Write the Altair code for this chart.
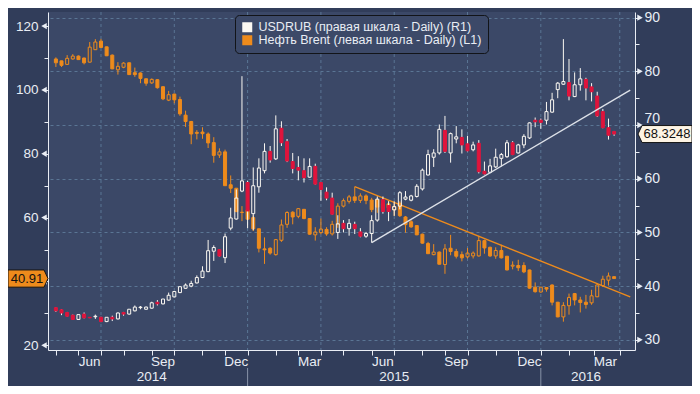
import altair as alt
import pandas as pd

# ---------------- data (weekly candles) ----------------
dates = pd.date_range("2014-05-02", periods=100, freq="7D").strftime("%Y-%m-%d").tolist()

brent_open = [109.7, 109.1, 108.0, 109.7, 110.6, 110.0, 108.7, 112.6, 115.3, 113.5,
              110.9, 106.3, 107.1, 108.5, 105.4, 105.3, 103.5, 102.2, 103.2, 101.0,
              96.8, 98.7, 97.0, 92.1, 90.1, 86.7, 86.8, 86.2, 83.5, 79.6,
              80.6, 70.3, 69.2, 61.6, 62.4, 60.0, 56.5, 50.2, 50.4, 48.4,
              52.9, 57.9, 61.7, 60.4, 62.6, 59.7, 54.6, 55.3, 56.3, 54.9,
              58.0, 63.6, 65.1, 66.5, 65.4, 66.8, 65.5, 65.6, 62.9, 64.3,
              62.5, 64.5, 60.2, 58.7, 57.5, 54.8, 51.9, 48.4, 49.2, 45.3,
              50.4, 49.4, 48.4, 47.7, 48.0, 48.0, 52.8, 50.7, 48.0, 49.7,
              47.9, 44.8, 45.0, 45.0, 43.6, 38.2, 36.7, 38.1, 38.9, 33.5,
              28.9, 32.4, 36.2, 34.2, 33.5, 33.3, 35.2, 38.7, 40.4, 41.5]
brent_high = [110.2, 109.2, 110.9, 111.2, 110.8, 110.1, 115.0, 115.9, 116.0, 113.6,
              111.1, 108.7, 108.7, 108.6, 107.0, 105.5, 103.6, 103.6, 103.4, 101.2,
              99.7, 98.8, 97.9, 93.5, 90.3, 87.4, 88.3, 86.7, 85.2, 81.7,
              81.3, 73.2, 69.3, 63.6, 63.7, 60.7, 56.6, 53.8, 50.7, 53.3,
              59.4, 62.0, 62.0, 63.0, 62.7, 59.8, 57.0, 59.7, 57.0, 59.0,
              64.5, 66.0, 67.1, 69.7, 67.6, 67.3, 66.2, 66.0, 65.6, 65.3,
              64.8, 65.1, 60.5, 59.2, 57.6, 55.0, 52.4, 51.7, 49.4, 51.7,
              54.6, 50.2, 49.4, 50.5, 49.4, 54.3, 53.1, 50.9, 50.7, 51.5,
              48.0, 46.3, 46.8, 46.0, 43.7, 39.7, 38.3, 38.2, 39.1, 33.6,
              33.5, 36.2, 36.4, 35.2, 35.8, 37.4, 39.4, 41.8, 42.8, 41.6]
brent_low = [107.2, 107.2, 107.9, 109.5, 109.4, 108.0, 108.6, 112.5, 113.1, 110.6,
             106.5, 104.8, 106.8, 104.7, 104.1, 102.1, 101.3, 101.9, 100.4, 96.8,
             96.5, 95.8, 91.9, 88.4, 83.0, 84.5, 84.7, 81.8, 77.2, 78.7,
             69.9, 67.7, 61.7, 58.9, 59.3, 55.8, 49.1, 45.5, 48.4, 48.1,
             52.4, 56.8, 57.9, 59.8, 59.5, 54.6, 52.8, 54.8, 54.3, 54.4,
             56.8, 63.2, 64.4, 64.6, 64.6, 64.2, 61.7, 61.5, 62.4, 62.3,
             60.5, 60.2, 55.3, 56.8, 54.5, 51.8, 48.6, 48.2, 45.3, 42.4,
             48.2, 47.2, 46.3, 47.2, 47.2, 47.8, 48.7, 47.7, 47.1, 47.2,
             43.5, 43.8, 43.3, 42.6, 37.7, 36.5, 36.5, 36.8, 32.5, 28.8,
             27.4, 29.6, 32.5, 30.3, 31.5, 32.7, 35.1, 38.3, 38.7, 40.8]
brent_close = [108.5, 107.7, 109.9, 110.6, 109.5, 108.5, 113.4, 115.0, 113.3, 110.7,
               106.6, 107.4, 108.4, 104.8, 104.8, 103.6, 102.1, 103.3, 100.7, 97.2,
               98.5, 96.9, 92.5, 90.1, 86.2, 86.4, 86.3, 83.4, 79.5, 80.6,
               70.0, 69.2, 61.9, 61.7, 59.5, 56.5, 50.4, 49.9, 48.9, 53.1,
               57.7, 61.6, 60.2, 62.8, 59.7, 54.8, 55.5, 56.4, 54.9, 57.9,
               63.6, 65.3, 66.5, 65.4, 66.8, 65.4, 62.5, 63.3, 64.4, 63.1,
               63.5, 60.6, 57.8, 57.1, 54.6, 52.0, 48.7, 49.2, 45.4, 50.2,
               49.4, 47.9, 47.4, 48.9, 48.9, 52.8, 50.5, 48.0, 49.7, 47.4,
               43.6, 45.1, 44.3, 43.0, 37.9, 36.8, 38.2, 37.6, 33.5, 28.9,
               32.5, 35.0, 34.2, 33.4, 32.8, 35.5, 38.9, 40.7, 41.7, 40.91]

rub_open = [36.0, 35.6, 35.1, 34.6, 33.8, 34.8, 34.2, 34.3, 34.2, 33.4,
            34.2, 33.9, 35.1, 34.8, 35.4, 36.0, 35.7, 35.9, 37.0, 36.7,
            37.4, 38.0, 38.8, 39.6, 40.0, 40.6, 41.6, 42.7, 46.5, 46.8,
            45.3, 50.8, 52.5, 57.7, 59.3, 53.5, 58.5, 61.5, 65.1, 63.7,
            69.4, 66.9, 63.2, 62.1, 61.5, 60.3, 62.3, 59.3, 57.5, 56.4,
            50.0, 51.7, 50.7, 51.5, 50.1, 49.3, 49.8, 52.3, 56.1, 55.0,
            54.2, 54.9, 56.2, 56.0, 56.7, 58.1, 60.7, 64.0, 64.8, 69.0,
            64.8, 67.4, 67.7, 66.5, 65.4, 66.6, 61.4, 61.2, 62.2, 63.8,
            64.1, 66.7, 64.8, 66.3, 67.6, 70.9, 70.9, 70.9, 72.4, 76.6,
            77.6, 77.9, 75.3, 77.5, 78.5, 77.1, 75.4, 72.5, 69.5, 68.8]
rub_high = [36.1, 35.7, 35.2, 34.7, 34.7, 35.1, 34.25, 34.7, 34.3, 34.2,
            34.5, 35.1, 35.2, 35.7, 36.4, 36.3, 36.2, 37.1, 37.4, 37.6,
            38.8, 39.0, 39.9, 40.5, 41.0, 42.0, 43.7, 48.6, 47.6, 46.9,
            49.8, 54.6, 58.0, 79.1, 59.6, 62.1, 63.8, 66.6, 66.1, 71.8,
            70.7, 67.4, 64.8, 64.2, 63.8, 63.8, 62.8, 59.4, 58.4, 57.4,
            53.2, 52.3, 52.5, 52.0, 50.8, 50.1, 53.2, 56.7, 56.7, 55.8,
            55.8, 57.7, 57.7, 57.0, 59.0, 61.9, 65.4, 65.5, 70.1, 71.7,
            68.6, 69.8, 69.2, 68.0, 66.9, 67.2, 63.2, 63.7, 65.6, 64.8,
            67.2, 67.0, 66.5, 68.3, 70.5, 71.4, 71.2, 74.3, 76.0, 78.0,
            86.0, 82.3, 79.8, 80.6, 78.8, 77.8, 76.2, 73.0, 71.2, 68.9]
rub_low = [35.2, 34.6, 34.3, 33.7, 33.7, 34.0, 34.05, 33.9, 33.3, 33.3,
           33.5, 33.8, 34.5, 34.7, 35.3, 35.7, 35.6, 35.8, 36.4, 36.6,
           37.3, 37.9, 38.7, 39.5, 39.8, 40.5, 41.5, 42.6, 44.7, 45.5,
           44.3, 50.4, 52.4, 57.5, 50.8, 50.4, 57.4, 61.0, 63.0, 63.5,
           66.1, 63.1, 61.0, 59.7, 59.3, 60.2, 58.9, 55.9, 56.0, 53.3,
           48.8, 50.0, 49.4, 49.7, 49.1, 49.0, 48.1, 52.0, 53.5, 52.1,
           53.1, 54.3, 56.0, 55.8, 56.5, 57.8, 60.6, 62.2, 64.5, 64.8,
           63.0, 66.6, 64.7, 65.1, 65.1, 61.0, 60.8, 61.0, 62.0, 62.3,
           63.9, 64.4, 64.7, 65.7, 67.4, 69.6, 69.3, 70.1, 72.3, 75.0,
           77.5, 74.6, 75.2, 76.4, 74.6, 74.4, 71.5, 69.4, 67.3, 68.0]
rub_close = [35.4, 35.0, 34.4, 33.8, 34.7, 34.1, 34.1, 34.4, 33.4, 34.2,
             33.9, 35.0, 34.8, 35.7, 36.1, 36.1, 36.1, 36.9, 36.7, 37.6,
             38.3, 39.0, 39.9, 40.2, 40.5, 41.6, 42.8, 46.6, 47.2, 45.6,
             49.2, 52.7, 56.4, 59.6, 54.0, 58.7, 62.0, 65.1, 63.5, 69.3,
             66.7, 63.3, 61.9, 61.6, 60.2, 62.3, 59.0, 58.0, 56.4, 53.4,
             51.6, 50.7, 51.7, 50.7, 49.3, 49.8, 52.2, 56.2, 53.9, 53.9,
             54.8, 57.4, 56.6, 56.8, 58.6, 61.6, 64.5, 64.8, 69.2, 65.1,
             68.4, 67.8, 66.3, 65.2, 66.3, 61.3, 60.9, 62.4, 64.0, 64.5,
             66.7, 64.5, 66.3, 67.9, 70.4, 70.6, 70.5, 72.5, 74.7, 77.8,
             78.1, 75.4, 77.5, 78.6, 76.9, 76.2, 71.7, 69.5, 68.1, 68.3248]

series_names = ["USDRUB (правая шкала - Daily) (R1)", "Нефть Brent (левая шкала - Daily) (L1)"]
last_brent = ["40.91"]
last_rub = ["68.3248"]

rub_trend_dates = ["2015-05-29", "2016-04-14"]
rub_trend_vals = [48.1, 76.5]
brent_trend_dates = ["2015-05-08", "2016-04-14"]
brent_trend_vals = [69.7, 35.2]

month_tick_dates = ["2014-05-02", "2014-05-30", "2014-06-27", "2014-07-25", "2014-08-29",
                    "2014-09-26", "2014-10-31", "2014-11-28", "2014-12-26", "2015-01-30",
                    "2015-02-27", "2015-03-27", "2015-04-24", "2015-05-29", "2015-06-26",
                    "2015-07-31", "2015-08-28", "2015-09-25", "2015-10-30", "2015-11-27",
                    "2015-12-25", "2016-01-29", "2016-02-29", "2016-04-01"]
grid_dates = ["2014-06-27", "2014-09-26", "2014-12-26", "2015-03-27",
              "2015-06-26", "2015-09-25", "2015-12-25", "2016-04-01"]
month_labels = ["Jun", "Sep", "Dec", "Mar", "Jun", "Sep", "Dec", "Mar"]
month_label_dates = ["2014-06-13", "2014-09-12", "2014-12-12", "2015-03-13",
                     "2015-06-12", "2015-09-11", "2015-12-11", "2016-03-14"]
year_labels = ["2014", "2015", "2016"]
year_label_dates = ["2014-08-29", "2015-06-26", "2016-02-19"]
year_sep_dates = ["2014-12-26", "2015-12-25"]

left_ticks = list(range(20, 121, 10))
left_major = [20, 40, 60, 80, 100, 120]
right_ticks = list(range(30, 91, 5))
right_major = [30, 40, 50, 60, 70, 80, 90]

# ---------------- style ----------------
W, H = 587, 338
FONT = "Liberation Sans"
ORANGE = "#ee8b1c"
RED = "#e0143c"
WHITE = "#fbf8f2"
AXC = "#e9edf4"
GRID = "#5a7594"
B1, B2, B3, B4 = "#44526f", "#3b4867", "#35425f", "#2f3b58"

def ms(s):
    return int(pd.Timestamp(s).value // 10**6)

xscale = alt.Scale(domain=[ms("2014-04-28 10:00"), ms("2016-04-13 17:00")])
xaxis = alt.Axis(values=[ms(d) for d in month_tick_dates], labels=False, tickSize=5,
                 grid=False, title=None, orient="bottom")

def X(f="date"):
    return alt.X(f + ":T", scale=xscale, axis=xaxis)

lscale = alt.Scale(domain=[18.53, 124.41], nice=False, zero=False)
laxis = alt.Axis(orient="left", values=left_ticks, title=None, grid=False, tickSize=4,
                 labelPadding=6, labelFontSize=13.5,
                 labelExpr="(datum.value % 20 == 0 && datum.value != 40) ? datum.label : ''")
rscale = alt.Scale(domain=[28.11, 91.05], nice=False, zero=False)
raxis = alt.Axis(orient="right", values=right_ticks, title=None, tickSize=4, labelPadding=5,
                 labelFontSize=14,
                 labelExpr="datum.value % 10 == 0 ? datum.label : ''",
                 labelBaseline={"condition": {"test": "datum.value == 70", "value": "bottom"},
                                "value": "middle"},
                 grid=True, gridColor=GRID, gridDash=[3, 3],
                 gridOpacity={"condition": {"test": "datum.value % 10 == 0", "value": 1}, "value": 0})

def YL(f):
    return alt.Y(f + ":Q", scale=lscale, axis=laxis)

def YR(f):
    return alt.Y(f + ":Q", scale=rscale, axis=raxis)

def candles(df, Yf, up_col, down_col, wick_col):
    base = alt.Chart(df).transform_calculate(
        top="max(datum.open, datum.close)", bot="min(datum.open, datum.close)")
    up = alt.datum.close >= alt.datum.open
    w1 = base.mark_rule(color=wick_col, strokeWidth=1).encode(x=X(), y=Yf("high"), y2="top:Q")
    w2 = base.mark_rule(color=wick_col, strokeWidth=1).encode(x=X(), y=Yf("bot"), y2="low:Q")
    body = base.mark_bar(width=3, strokeWidth=1).encode(
        x=X(), y=Yf("open"), y2="close:Q",
        fill=alt.condition(up, alt.value(up_col), alt.value(down_col)),
        fillOpacity=alt.condition(up, alt.value(0), alt.value(1)),
        stroke=alt.condition(up, alt.value(up_col), alt.value(down_col)))
    return [w1, w2, body]

brent_df = pd.DataFrame({"date": dates, "open": brent_open, "high": brent_high,
                         "low": brent_low, "close": brent_close})
rub_df = pd.DataFrame({"date": dates, "open": rub_open, "high": rub_high,
                       "low": rub_low, "close": rub_close})

# ---------------- left (Brent) group ----------------
vgrid = alt.Chart(pd.DataFrame({"d": grid_dates})).mark_rule(
    color=GRID, strokeDash=[3, 3], strokeWidth=1).encode(x=X("d"))

brent_trend = alt.Chart(pd.DataFrame({"d": brent_trend_dates, "v": brent_trend_vals})).mark_line(
    color=ORANGE, strokeWidth=1.4, clip=True).encode(x=X("d"), y=YL("v"))

ltri = alt.Chart(pd.DataFrame({"v": left_major})).mark_point(
    shape="triangle-left", filled=True, size=40, color=AXC, opacity=1).encode(
    x=alt.value(-4), y=YL("v"))

ltag_df = pd.DataFrame({"v": [float(last_brent[0])], "t": last_brent})
ltag = alt.Chart(ltag_df).mark_point(
    shape="M-1,-0.43L0.8,-0.43L1,0L0.8,0.43L-1,0.43Z", size=1600, filled=True,
    fill=ORANGE, stroke="#151515", strokeWidth=1, opacity=1).encode(x=alt.value(-20), y=YL("v"))
ltag_t = alt.Chart(ltag_df).mark_text(font=FONT, fontSize=13, color="#111111").encode(
    x=alt.value(-21), y=YL("v"), text="t:N")

mlab = alt.Chart(pd.DataFrame({"d": month_label_dates, "t": month_labels})).mark_text(
    font=FONT, fontSize=13.5, color=AXC, baseline="middle").encode(
    x=X("d"), y=alt.value(H + 12), text="t:N")
ylab = alt.Chart(pd.DataFrame({"d": year_label_dates, "t": year_labels})).mark_text(
    font=FONT, fontSize=13.5, color=AXC, baseline="middle").encode(
    x=X("d"), y=alt.value(H + 27), text="t:N")
ysep = alt.Chart(pd.DataFrame({"d": year_sep_dates})).mark_rule(
    color="#8893a8", strokeWidth=1).encode(x=X("d"), y=alt.value(H + 18), y2=alt.value(H + 36))

legend_layer = alt.Chart(pd.DataFrame({"s": series_names})).mark_square(size=100, opacity=1).encode(
    x=alt.value(-400), y=alt.value(-400),
    color=alt.Color("s:N", scale=alt.Scale(domain=series_names, range=[WHITE, ORANGE]),
                    legend=alt.Legend(orient="none", legendX=187, legendY=3, title=None,
                                      fillColor="#3c4968", strokeColor="#121418",
                                      cornerRadius=4, padding=6, symbolType="square",
                                      symbolSize=100, symbolStrokeWidth=0, symbolOpacity=1,
                                      labelFont=FONT, labelFontSize=12.5, labelColor=AXC,
                                      rowPadding=0, labelLimit=400, labelOffset=5)))

left = alt.layer(vgrid, *candles(brent_df, YL, ORANGE, ORANGE, ORANGE), brent_trend,
                 ltri, ltag, ltag_t, mlab, ylab, ysep, legend_layer)

# ---------------- right (USDRUB) group ----------------
rub_trend = alt.Chart(pd.DataFrame({"d": rub_trend_dates, "v": rub_trend_vals})).mark_line(
    color="#dde1e8", strokeWidth=1.4, clip=True).encode(x=X("d"), y=YR("v"))
rtri = alt.Chart(pd.DataFrame({"v": right_major})).mark_point(
    shape="triangle-right", filled=True, size=40, color=AXC, opacity=1).encode(
    x=alt.value(W + 5), y=YR("v"))
rtag_df = pd.DataFrame({"v": [float(last_rub[0])], "t": last_rub})
rtag = alt.Chart(rtag_df).mark_point(
    shape="M-1,0L-0.85,-0.315L1,-0.315L1,0.315L-0.85,0.315Z", size=2916, filled=True,
    fill="#fdf4e4", stroke="#151515", strokeWidth=1, opacity=1).encode(x=alt.value(W + 30), y=YR("v"))
rtag_t = alt.Chart(rtag_df).mark_text(font=FONT, fontSize=13, color="#111111").encode(
    x=alt.value(W + 32), y=YR("v"), text="t:N")

right = alt.layer(*candles(rub_df, YR, WHITE, RED, WHITE), rub_trend, rtri, rtag, rtag_t)

chart = alt.layer(left, right).resolve_scale(y="independent").properties(
    width=W, height=H, autosize="none",
    padding={"left": 40, "top": 4, "right": 57, "bottom": 36},
    background="#313d5a")

chart = chart.configure_axis(labelFont=FONT, labelFontSize=13, labelColor=AXC,
                             domainColor=AXC, tickColor=AXC, domainWidth=1, tickWidth=1)

grad = alt.LinearGradient(gradient="linear", x1=0, x2=0, y1=0, y2=1, stops=[
    alt.GradientStop(offset=0, color=B1), alt.GradientStop(offset=0.136, color=B1),
    alt.GradientStop(offset=0.136, color=B2), alt.GradientStop(offset=0.578, color=B2),
    alt.GradientStop(offset=0.578, color=B3), alt.GradientStop(offset=0.764, color=B3),
    alt.GradientStop(offset=0.764, color=B4), alt.GradientStop(offset=1, color=B4)])
try:
    c2 = chart.configure_view(fill=grad, stroke=None)
    c2.to_dict()
    chart = c2
except Exception:
    chart = chart.configure_view(fill=B2, stroke=None)

chart.save("out.html", embed_options={"renderer": "svg", "actions": False})
